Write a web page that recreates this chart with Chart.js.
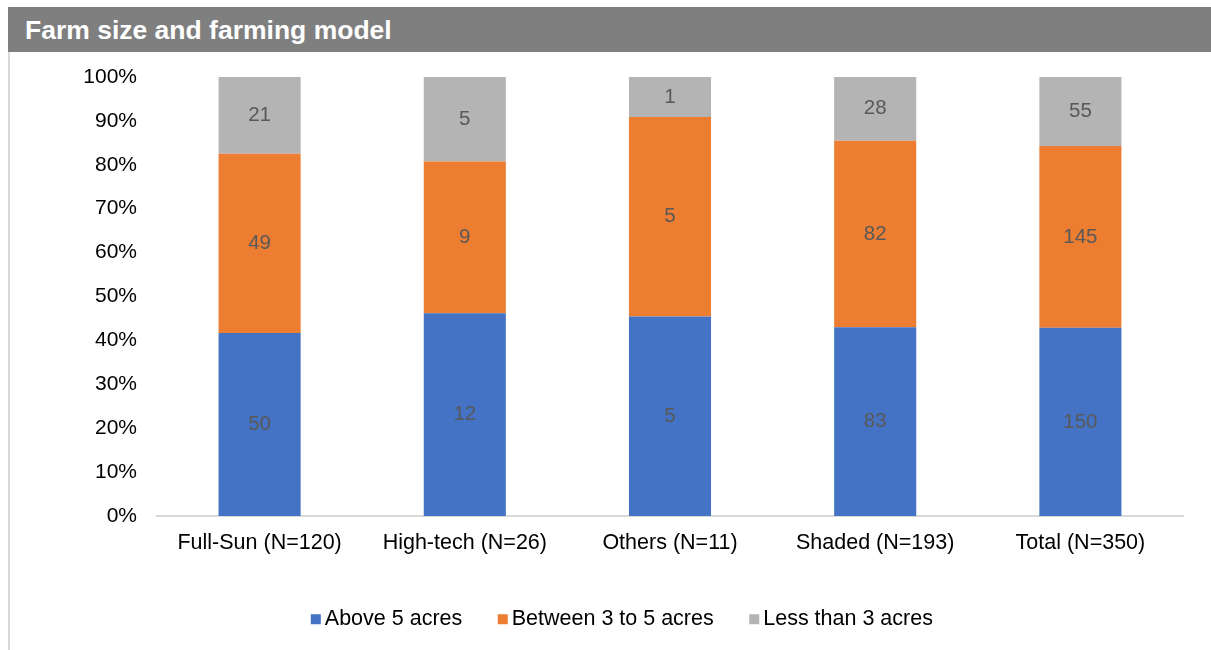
<!DOCTYPE html>
<html>
<head>
<meta charset="utf-8">
<script src="https://cdn.jsdelivr.net/npm/chart.js@4"></script>
<style>
  body { margin: 0; background: #fff; font-family: "Liberation Sans", Arial, sans-serif; }
  #titleBar {
    position: absolute; left: 8px; top: 7px; width: 1203px; height: 45px;
    background: #7f7f7f; color: #fff; font-weight: bold; font-size: 26.5px;
    line-height: 47px; padding-left: 17px; box-sizing: border-box;
  }
  #frame {
    position: absolute; left: 8px; top: 52px; width: 1203px; height: 598px;
    border-left: 2px solid #d9d9d9; box-sizing: border-box;
  }
  #wrap { position: absolute; left: 10px; top: 52px; width: 1201px; height: 598px; }
</style>
</head>
<body>
<div id="titleBar">Farm size and farming model</div>
<div id="frame"></div>
<div id="wrap"><canvas id="farmChart"></canvas></div>
<script>
// farm size by farming model, counts per group
const categories = ["Full-Sun (N=120)", "High-tech (N=26)", "Others (N=11)", "Shaded (N=193)", "Total (N=350)"];
const above5 = [50, 12, 5, 83, 150];
const between3to5 = [49, 9, 5, 82, 145];
const lessThan3 = [21, 5, 1, 28, 55];
const yTicks = [0, 10, 20, 30, 40, 50, 60, 70, 80, 90, 100];

const totals = categories.map((c, i) => above5[i] + between3to5[i] + lessThan3[i]);
const toPct = arr => arr.map((v, i) => v / totals[i] * 100);
const FONT = "'Liberation Sans', Arial, sans-serif";
const LEGEND_FONT = 21.5;

const countLabels = {
  id: "countLabels",
  afterDatasetsDraw(chart) {
    const ctx = chart.ctx;
    ctx.save();
    ctx.font = "20.5px " + FONT;
    ctx.fillStyle = "#595959";
    ctx.textAlign = "center";
    ctx.textBaseline = "middle";
    chart.data.datasets.forEach((ds, di) => {
      const meta = chart.getDatasetMeta(di);
      meta.data.forEach((bar, i) => {
        ctx.fillText(String(ds.counts[i]), bar.x, (bar.y + bar.base) / 2);
      });
    });
    ctx.restore();
  }
};

// legend squares sit tight against the text, like Excel does
const legendSquares = {
  id: "legendSquares",
  afterLayout(chart) {
    chart.legend.left += 27;
    chart.legend.right += 27;
  },
  afterDraw(chart) {
    const ctx = chart.ctx;
    const boxes = chart.legend.legendHitBoxes || [];
    ctx.save();
    boxes.forEach((hb, i) => {
      const textX = hb.left + LEGEND_FONT / 2;
      const cy = hb.top + hb.height / 2;
      ctx.fillStyle = chart.data.datasets[i].backgroundColor;
      ctx.fillRect(textX - 14, cy - 5, 10, 10);
    });
    ctx.restore();
  }
};

const ctx = document.getElementById("farmChart").getContext("2d");
const farmChart = new Chart(ctx, {
  type: "bar",
  data: {
    labels: categories,
    datasets: [
      { label: "Above 5 acres", data: toPct(above5), counts: above5, backgroundColor: "#4472c4" },
      { label: "Between 3 to 5 acres", data: toPct(between3to5), counts: between3to5, backgroundColor: "#ed7d31" },
      { label: "Less than 3 acres", data: toPct(lessThan3), counts: lessThan3, backgroundColor: "#b4b4b4" }
    ]
  },
  options: {
    responsive: true,
    maintainAspectRatio: false,
    animation: false,
    categoryPercentage: 1,
    barPercentage: 0.4,
    layout: { padding: { top: 25, right: 28, left: 0, bottom: 10 } },
    plugins: {
      tooltip: { enabled: false },
      legend: {
        position: "bottom",
        labels: {
          boxWidth: 0, boxHeight: 0, padding: 38.75, color: "#000",
          font: { size: LEGEND_FONT, family: FONT }
        }
      }
    },
    scales: {
      x: {
        stacked: true,
        grid: { display: false, drawTicks: false },
        border: { color: "#d9d9d9", width: 2 },
        ticks: { color: "#000", padding: 14, font: { size: 21.5, family: FONT } }
      },
      y: {
        stacked: true,
        min: 0, max: 100,
        afterBuildTicks: axis => { axis.ticks = yTicks.map(v => ({ value: v })); },
        afterFit: axis => { axis.width = 147; axis.paddingTop = 0; axis.paddingBottom = 0; },
        grid: { display: false, drawTicks: false },
        border: { display: false },
        ticks: {
          color: "#000", padding: 20,
          font: { size: 21, family: FONT },
          callback: v => v + "%"
        }
      }
    }
  },
  plugins: [countLabels, legendSquares]
});
</script>
</body>
</html>
